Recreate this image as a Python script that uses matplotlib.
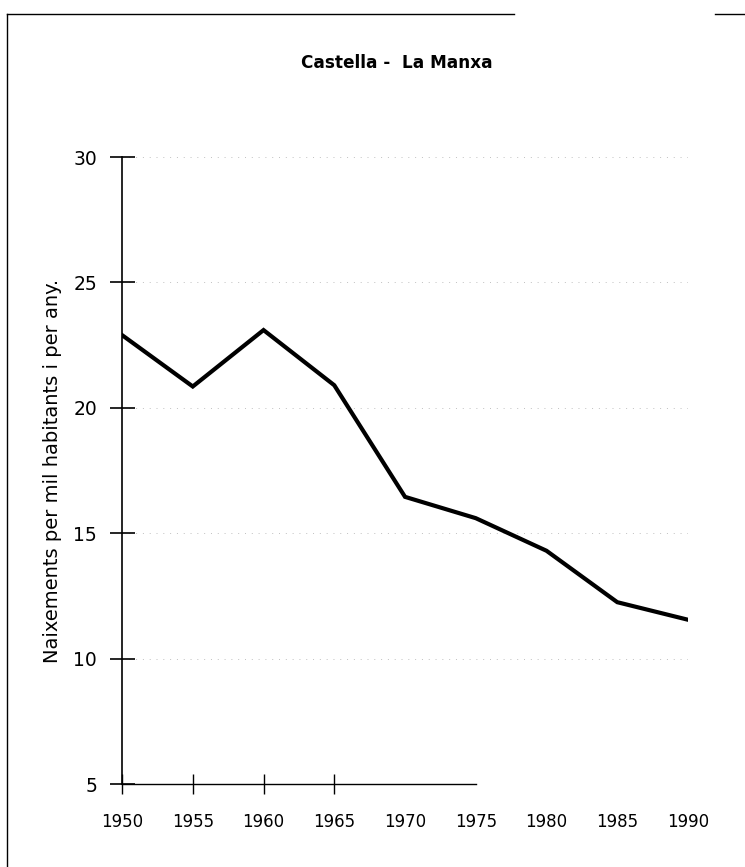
import matplotlib.pyplot as plt
from matplotlib.lines import Line2D

# Castella - La Manxa, births per 1000 inhabitants
years = [1950, 1955, 1960, 1965, 1970, 1975, 1980, 1985, 1990]
births = [22.9, 20.85, 23.1, 20.9, 16.45, 15.6, 14.3, 12.25, 11.55]
yticks = [5, 10, 15, 20, 25, 30]

plt.rcParams['font.family'] = ['DejaVu Sans']

fig = plt.figure(figsize=(7.45, 8.67), dpi=100)
ax = fig.add_axes([0.1638, 0.0957, 0.7597, 0.7232])

# faint dotted grid, as in the scan
for v in yticks[1:]:
    ax.axhline(v, color='#c0c0c0', lw=0.7, ls=(0, (1, 6)), zorder=1)

ax.plot(years, births, color='black', lw=3.0, solid_joinstyle='miter', zorder=3)

ax.set_xlim(1950, 1990)
ax.set_ylim(5, 30)
ax.set_xticks(years)
ax.set_yticks(yticks)

for s in ['top', 'right']:
    ax.spines[s].set_visible(False)
ax.spines['left'].set_linewidth(1.2)
ax.spines['bottom'].set_linewidth(1.0)
ax.spines['bottom'].set_bounds(1950, 1975)

ax.tick_params(axis='y', direction='inout', length=18, width=1.2, pad=9, labelsize=13.5)
ax.tick_params(axis='x', direction='inout', length=14, width=1.0, pad=14, labelsize=12)
for i, t in enumerate(ax.xaxis.get_major_ticks()):
    if years[i] > 1965:
        t.tick1line.set_visible(False)

ax.set_ylabel('Naixements per mil habitants i per any.', fontsize=14, labelpad=8)
fig.text(0.532, 0.927, 'Castella -  La Manxa', ha='center', va='center',
         fontsize=12.2, fontweight='bold')

# page frame from the scan
fig.add_artist(Line2D([0.0094, 0.0094], [0.0, 0.984], color='black', lw=1.0))
fig.add_artist(Line2D([0.0094, 0.69], [0.984, 0.984], color='black', lw=1.0))
fig.add_artist(Line2D([0.96, 1.0], [0.984, 0.984], color='black', lw=1.0))

fig.savefig('out.png', dpi=100)
